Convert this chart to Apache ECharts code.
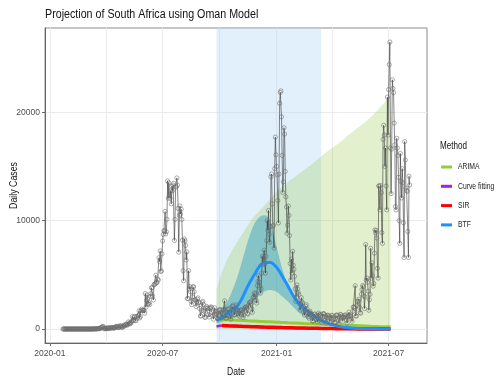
<!DOCTYPE html>
<html>
<head>
<meta charset="utf-8">
<script src="https://cdn.jsdelivr.net/npm/echarts@6/dist/echarts.min.js"></script>
<style>
  html, body { margin: 0; padding: 0; background: #ffffff; }
  #chart { width: 499px; height: 376px; }
</style>
</head>
<body>
<div id="chart"></div>
<script>
const FONT = '"Liberation Sans", Arial, sans-serif';

// Reported daily cases, one value per day from the start date.
const casesStart2020 = '2020-01-22';
const cases2020 = [
  0,0,0,0,0,0,0,0,0,0,
  0,0,0,0,0,0,0,0,0,0,0,0,0,0,0,0,0,0,0,0,0,0,0,0,0,0,0,0,0,
  0,0,0,0,1,0,1,1,4,0,6,4,7,14,13,11,23,31,34,52,38,34,128,148,155,218,243,17,93,46,27,
  42,82,60,123,43,69,99,101,96,154,85,124,99,86,142,178,251,178,251,124,186,138,318,228,267,170,180,187,354,300,
  297,385,447,437,352,424,663,498,595,487,600,698,1160,784,817,1118,1160,767,803,1134,988,1218,1240,1673,1032,1151,1674,1837,1727,1716,1713,
  1716,1455,3267,2011,2642,3147,2313,2312,2430,2259,3005,3267,3809,3809,3025,2674,4074,4123,4196,4966,4302,4288,4621,4518,6579,6215,7210,5314,5356,6945,
  8124,8728,9063,9064,10853,8773,8971,10134,13674,12058,13497,12348,12058,12757,11554,13172,12757,13285,13449,8170,10107,13150,13104,13944,13285,11126,7096,10496,11362,10611,11046,
  10107,8195,5377,4456,8307,8139,7712,6375,7123,2810,2810,5385,3692,3916,3446,2541,2258,2968,3916,3880,3445,2684,2707,2077,2505,2765,2880,2436,2467,1895,1198,
  1218,1707,2420,2563,2258,1645,1089,1078,1923,2087,1884,1969,1318,1101,1893,1923,2047,1995,1531,1216,906,1366,1969,1646,1552,1385,1024,929,1589,1730,
  1767,1796,1510,1017,1093,1432,1784,1807,2604,1567,1003,1010,1304,1757,1883,1849,1575,1133,917,1437,2065,2097,2219,1704,1328,1278,1809,2219,1800,1734,1425,
  1285,1175,1624,1742,1800,1706,1527,1086,1279,1844,1979,2048,2020,1880,1448,1385,2187,2415,2443,2530,2338,1870,1544,2894,2956,3264,3349,3176,2634,2389,
  4011,4400,4932,4300,3969,3313,3700,5163,6709,5958,6600,7279,6000,5163,6709,8166,10008,9126,10939,8725,7999,9445,14046,14305,11552,9502,9580,7458,14796,17710,16078
];
const casesStart2021 = '2021-01-01';
const cases2021 = [
  15002,14222,11859,9789,14305,20832,21832,21980,19580,16021,12601,13583,18579,17990,14540,12200,11261,8828,9585,11350,10484,8625,6045,4525,6446,5166,7168,5888,5514,4863,3690,
  2548,2926,4066,3696,3349,3184,2337,1742,2299,2893,2524,2403,2063,1587,1290,1705,2098,2244,1856,1508,1147,1004,1533,1637,1455,1359,1206,761,
  720,1076,1358,1395,1190,1227,888,651,1012,1469,1305,1347,1179,919,590,1099,1416,1385,1408,1182,800,563,1054,1262,1273,1185,1066,683,550,1001,1266,
  1231,1082,915,619,576,585,1247,1311,1235,1009,826,481,1078,1354,1317,1183,1020,718,1047,1146,1264,1307,1109,843,539,1154,1228,1571,1256,1193,
  1130,904,711,1629,2015,2048,1934,4000,1198,1192,2149,2534,2585,2757,2003,1536,1450,3209,3635,4013,3901,3068,1889,2962,7800,4498,4700,4302,3495,1728,2700,
  3200,7450,4700,6100,4900,3950,4200,7000,9150,8900,9100,8400,5600,4700,13200,13200,11000,13250,12600,8900,7900,17500,18800,17900,15000,16700,13200,11000,21400,17900,
  22100,24400,26485,16700,12500,16600,23000,22200,21800,19000,17000,11300,11000,17600,16700,16000,14000,10000,7900,16200,13600,12100,14800,13500,9800,6600,17300,15600,13000,12800,12700,
  9000,6600,14100,13300
];

// Model projections (shared date grid).
const forecastDates = [
  '2020-09-26','2020-10-05','2020-10-15','2020-10-28','2020-11-06','2020-11-16','2020-11-26','2020-12-06',
  '2020-12-14','2020-12-22','2021-01-01','2021-01-10','2021-01-20','2021-02-01','2021-02-15','2021-03-01',
  '2021-03-15','2021-04-01','2021-04-15','2021-05-01','2021-05-15','2021-06-01','2021-06-15','2021-07-04'
];
const arimaMean = [900,880,850,810,790,760,730,700,680,660,630,610,580,550,510,480,440,400,370,330,300,260,230,200];
const arimaLow  = [0,0,0,0,0,0,0,0,0,0,0,0,0,0,0,0,0,0,0,0,0,0,0,0];
const arimaHigh = [3600,5300,6600,7900,8700,9600,10400,11000,11500,12000,12700,13100,13600,14100,14700,15300,16000,16700,17300,18100,18700,19500,20300,21500];
const btfMean = [800,1050,1500,2000,2800,4000,5000,5900,6150,6150,5700,4900,3900,2700,1900,1300,780,400,200,100,50,20,10,0];
const btfLow  = [500,650,850,1150,1500,2000,2600,3200,3500,3600,3450,3000,2500,1800,1150,750,430,200,100,50,25,10,5,0];
const btfHigh = [1200,1800,2700,4500,6200,8200,9700,10400,10500,9800,7600,5600,3900,2800,1800,1150,700,330,170,90,45,20,10,0];
const sirMean  = [null,330,300,270,250,230,210,190,175,160,145,130,115,100,85,70,55,40,30,20,12,6,3,0];
const curveFit = [230,320,290,260,240,220,200,180,165,150,135,120,105,90,75,60,45,30,20,12,6,3,1,0];

const projectionWindow = ['2020-09-26', '2021-03-14'];
const xRange = ['2019-12-24', '2021-09-01'];
const xTickDates = ['2020-01-01', '2020-07-01', '2021-01-01', '2021-07-01'];
const xGridDates = ['2020-01-01', '2020-04-01', '2020-07-01', '2020-10-01', '2021-01-01', '2021-04-01', '2021-07-01'];
const yTicks = [0, 10000, 20000];
const yRange = [-1290, 27780];

const methodNames = ['ARIMA', 'Curve fitting', 'SIR', 'BTF'];
const methodColors = ['#96CB3A', '#A020F0', '#FF0000', '#1E90FF'];

function toTime(s, offset) {
  const p = s.split('-').map(Number);
  return new Date(p[0], p[1] - 1, p[2] + (offset || 0)).getTime();
}
function daily(start, values) {
  return values.map((v, i) => [toTime(start, i), v]);
}
function byDate(values) {
  return forecastDates.map((d, i) => [toTime(d), values[i]]);
}
function pad2(n) { return (n < 10 ? '0' : '') + n; }

const observed = daily(casesStart2020, cases2020).concat(daily(casesStart2021, cases2021));
const arimaBand = arimaHigh.map((v, i) => v - arimaLow[i]);
const btfBand = btfHigh.map((v, i) => v - btfLow[i]);
const xTickTimes = xTickDates.map(d => toTime(d));
const xMin = toTime(xRange[0]), xMax = toTime(xRange[1]);

const hidden = { opacity: 0, width: 0 };

// Narrow text labels (title, axis titles, legend)
function label(text, x, y, size, sx, opts) {
  return Object.assign({
    type: 'text', x: x, y: y, scaleX: sx, silent: true,
    style: { text: text, font: size + 'px ' + FONT, fill: '#111', textAlign: 'left', textVerticalAlign: 'middle' }
  }, opts || {});
}
const legendRows = [167, 186.3, 205.6, 224.9];
const graphics = [
  label('Projection of South Africa using Oman Model', 45, 14.5, 12.5, 0.855),
  label('Method', 440, 146, 10.5, 0.77),
  label('Date', 236, 371.5, 11, 0.78, { style: { text: 'Date', font: '11px ' + FONT, fill: '#111', textAlign: 'center', textVerticalAlign: 'middle' } }),
  label('Daily Cases', 13.5, 185.5, 11, 0.8, { rotation: Math.PI / 2, style: { text: 'Daily Cases', font: '11px ' + FONT, fill: '#111', textAlign: 'center', textVerticalAlign: 'middle' } })
];
methodNames.forEach((name, i) => {
  graphics.push({ type: 'rect', silent: true, shape: { x: 441, y: legendRows[i] - 1.5, width: 11, height: 3 }, style: { fill: methodColors[i] } });
  graphics.push(label(name, 458, legendRows[i], 8.5, 0.8, { style: { text: name, font: '8.5px ' + FONT, fill: '#222', textAlign: 'left', textVerticalAlign: 'middle' } }));
});

const chart = echarts.init(document.getElementById('chart'), null, { renderer: 'canvas' });
chart.setOption({
  animation: false,
  backgroundColor: '#ffffff',
  graphic: graphics,
  grid: { left: 45, right: 72, top: 28, bottom: 33, show: true, borderColor: '#8c8c8c', borderWidth: 1,
          outerBoundsMode: 'none', containLabel: false },
  xAxis: [
    { type: 'time', min: xMin, max: xMax, show: false },
    {
      type: 'value', min: xMin, max: xMax, position: 'bottom',
      axisLine: { show: true, onZero: false, lineStyle: { color: '#666' } },
      axisTick: { show: true, customValues: xTickTimes, length: 3, lineStyle: { color: '#666' } },
      axisLabel: {
        customValues: xTickTimes,
        fontFamily: FONT, fontSize: 8.5, color: '#4d4d4d', margin: 6,
        formatter: v => { const d = new Date(v); return d.getFullYear() + '-' + pad2(d.getMonth() + 1); }
      },
      splitLine: { show: false }
    }
  ],
  yAxis: {
    type: 'value', min: yRange[0], max: yRange[1], splitNumber: 5,
    axisLine: { show: true, onZero: false, lineStyle: { color: '#666' } },
    axisTick: { show: true, customValues: yTicks, length: 3, lineStyle: { color: '#666' } },
    axisLabel: { customValues: yTicks, fontFamily: FONT, fontSize: 8.5, color: '#4d4d4d', margin: 5,
                 formatter: v => String(v) },
    splitLine: { show: true, lineStyle: { color: '#ebebeb', width: 1 } }
  },
  series: [
    {
      name: 'grid', type: 'line', data: [], silent: true,
      markLine: {
        z: 0, silent: true, symbol: 'none', label: { show: false },
        lineStyle: { color: '#ebebeb', width: 1, type: 'solid' },
        data: xGridDates.map(d => ({ xAxis: toTime(d) }))
      },
      markArea: {
        silent: true,
        itemStyle: { color: 'rgba(180,216,245,0.38)' },
        data: [[{ xAxis: toTime(projectionWindow[0]) }, { xAxis: toTime(projectionWindow[1]) }]]
      }
    },
    { name: 'arima-low', type: 'line', stack: 'arima', data: byDate(arimaLow), smooth: 0.3,
      showSymbol: false, lineStyle: hidden, silent: true },
    { name: 'arima-band', type: 'line', stack: 'arima', data: byDate(arimaBand), smooth: 0.3,
      showSymbol: false, lineStyle: hidden, silent: true,
      areaStyle: { color: 'rgba(140,195,60,0.36)' } },
    { name: 'btf-low', type: 'line', stack: 'btf', data: byDate(btfLow), smooth: 0.3,
      showSymbol: false, lineStyle: hidden, silent: true },
    { name: 'btf-band', type: 'line', stack: 'btf', data: byDate(btfBand), smooth: 0.3,
      showSymbol: false, lineStyle: hidden, silent: true,
      areaStyle: { color: 'rgba(0,135,190,0.5)' } },
    { name: 'Observed', type: 'line', data: observed,
      symbol: 'circle', symbolSize: 4.2, showSymbol: true, showAllSymbol: true,
      lineStyle: { color: '#262626', width: 0.55 },
      itemStyle: { color: 'rgba(255,255,255,0)', borderColor: '#6a6a6a', borderWidth: 0.55 },
      emphasis: { disabled: true }, silent: true },
    { name: 'ARIMA', type: 'line', data: byDate(arimaMean), smooth: 0.3, showSymbol: false,
      color: methodColors[0], lineStyle: { color: methodColors[0], width: 3 }, silent: true },
    { name: 'Curve fitting', type: 'line', data: byDate(curveFit), smooth: 0.3, showSymbol: false,
      color: methodColors[1], lineStyle: { color: methodColors[1], width: 2.5 }, silent: true },
    { name: 'SIR', type: 'line', data: byDate(sirMean), smooth: 0.3, showSymbol: false,
      color: methodColors[2], lineStyle: { color: methodColors[2], width: 3.5 }, silent: true },
    { name: 'BTF', type: 'line', data: byDate(btfMean), smooth: 0.3, showSymbol: false,
      color: methodColors[3], lineStyle: { color: methodColors[3], width: 3 }, silent: true }
  ]
});
</script>
</body>
</html>
